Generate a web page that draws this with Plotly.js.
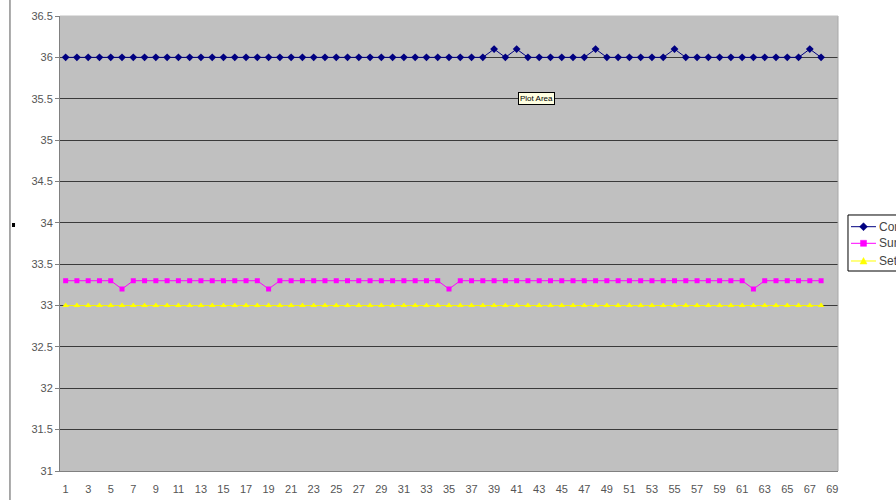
<!DOCTYPE html>
<html>
<head>
<meta charset="utf-8">
<script src="https://cdn.plot.ly/plotly-3.0.1.min.js"></script>
<style>html,body{margin:0;padding:0;background:#fff;}#chart{width:896px;height:500px;}</style>
</head>
<body>
<div id="chart"></div>
<script>
var categories = [1,2,3,4,5,6,7,8,9,10,11,12,13,14,15,16,17,18,19,20,21,22,23,24,25,26,27,28,29,30,31,32,33,34,35,36,37,38,39,40,41,42,43,44,45,46,47,48,49,50,51,52,53,54,55,56,57,58,59,60,61,62,63,64,65,66,67,68];
var coreTemp = [36,36,36,36,36,36,36,36,36,36,36,36,36,36,36,36,36,36,36,36,36,36,36,36,36,36,36,36,36,36,36,36,36,36,36,36,36,36,36.1,36,36.1,36,36,36,36,36,36,36.1,36,36,36,36,36,36,36.1,36,36,36,36,36,36,36,36,36,36,36,36.1,36];
var surfaceTemp = [33.3,33.3,33.3,33.3,33.3,33.2,33.3,33.3,33.3,33.3,33.3,33.3,33.3,33.3,33.3,33.3,33.3,33.3,33.2,33.3,33.3,33.3,33.3,33.3,33.3,33.3,33.3,33.3,33.3,33.3,33.3,33.3,33.3,33.3,33.2,33.3,33.3,33.3,33.3,33.3,33.3,33.3,33.3,33.3,33.3,33.3,33.3,33.3,33.3,33.3,33.3,33.3,33.3,33.3,33.3,33.3,33.3,33.3,33.3,33.3,33.3,33.2,33.3,33.3,33.3,33.3,33.3,33.3];
var setPoint = [33,33,33,33,33,33,33,33,33,33,33,33,33,33,33,33,33,33,33,33,33,33,33,33,33,33,33,33,33,33,33,33,33,33,33,33,33,33,33,33,33,33,33,33,33,33,33,33,33,33,33,33,33,33,33,33,33,33,33,33,33,33,33,33,33,33,33,33];
var xTickLabels = [1,3,5,7,9,11,13,15,17,19,21,23,25,27,29,31,33,35,37,39,41,43,45,47,49,51,53,55,57,59,61,63,65,67,69];
var yTickValues = [31,31.5,32,32.5,33,33.5,34,34.5,35,35.5,36,36.5];
var seriesNames = ['Core Temp','Surface Temp','Set Point'];
var seriesColors = ['#000080','#FF00FF','#FFFF00'];

// category boundaries for the small tick marks (69 categories on the axis)
var boundaries = categories.map(function (c) { return c - 0.5; }).concat([68.5, 69.5]);

var traces = [
  {x: categories, y: coreTemp, name: seriesNames[0], type: 'scatter', mode: 'lines+markers',
   line: {color: seriesColors[0], width: 1}, marker: {symbol: 'diamond', size: 6, color: seriesColors[0]}},
  {x: categories, y: surfaceTemp, name: seriesNames[1], type: 'scatter', mode: 'lines+markers',
   line: {color: seriesColors[1], width: 1}, marker: {symbol: 'square', size: 5, color: seriesColors[1]}},
  {x: categories, y: setPoint, name: seriesNames[2], type: 'scatter', mode: 'lines+markers',
   line: {color: seriesColors[2], width: 1}, marker: {symbol: 'triangle-up', size: 6, color: seriesColors[2]}}
];

// Excel-style legend box (partly cut off by the right page edge, as in the reference)
var legX0 = 1.01285, legX1 = 1.0797, legY0 = 0.43956, legY1 = 0.56264;
var lineX0 = 1.01671, lineX1 = 1.04884, markX = 1.03278, textX = 1.0501;
var itemY = [0.53692, 0.50044, 0.46154];
var markerPaths = ['M0,4 L4,0 L0,-4 L-4,0 Z', 'M-3,-3 L3,-3 L3,3 L-3,3 Z', 'M-3.5,-3 L3.5,-3 L0,3.5 Z'];

var shapes = [
  {type: 'line', xref: 'paper', yref: 'paper', x0: -0.0643, x1: -0.0643, y0: -0.07, y1: 1.04,
   line: {color: '#555555', width: 1}},
  {type: 'line', xref: 'paper', yref: 'paper', x0: 1, x1: 1, y0: 0, y1: 1,
   line: {color: '#a8a8a8', width: 1}},
  {type: 'line', xref: 'paper', yref: 'paper', x0: 0, x1: 1, y0: 1, y1: 1,
   line: {color: '#c0c0c0', width: 1}},
  {type: 'rect', xref: 'paper', yref: 'paper', x0: -0.0617, x1: -0.0578, y0: 0.5363, y1: 0.5451,
   fillcolor: '#000000', line: {width: 0}},
  {type: 'rect', xref: 'paper', yref: 'paper', x0: legX0, x1: legX1, y0: legY0, y1: legY1,
   fillcolor: '#ffffff', line: {color: '#000000', width: 1}}
];
var annotations = [
  {text: 'Plot Area', xref: 'paper', yref: 'paper', x: 0.612, y: 0.833, showarrow: false,
   bgcolor: '#ffffe1', bordercolor: '#000000', borderwidth: 1, borderpad: 1,
   font: {size: 8, color: '#000000'}}
];
for (var i = 0; i < seriesNames.length; i++) {
  shapes.push({type: 'line', xref: 'paper', yref: 'paper', x0: lineX0, x1: lineX1, y0: itemY[i], y1: itemY[i],
               line: {color: seriesColors[i], width: 1}});
  shapes.push({type: 'path', xref: 'paper', yref: 'paper', xsizemode: 'pixel', ysizemode: 'pixel',
               xanchor: markX, yanchor: itemY[i], path: markerPaths[i],
               fillcolor: seriesColors[i], line: {color: seriesColors[i], width: 0.5}});
  annotations.push({text: seriesNames[i], xref: 'paper', yref: 'paper', x: textX, y: itemY[i],
                    xanchor: 'left', yanchor: 'middle', showarrow: false,
                    font: {size: 12, color: '#444444'}});
}

var layout = {
  width: 896, height: 500,
  margin: {l: 60, r: 58, t: 16, b: 29, autoexpand: false},
  paper_bgcolor: '#ffffff',
  plot_bgcolor: '#c0c0c0',
  font: {family: 'Liberation Sans, Arial, sans-serif', size: 11, color: '#555555'},
  showlegend: false,
  xaxis: {
    range: [0.5, 69.5], tickmode: 'array', tickvals: xTickLabels, ticktext: xTickLabels.map(String),
    ticks: '', showgrid: false, zeroline: false, showline: true, linecolor: '#808080', linewidth: 1,
    mirror: false, ticklabelstandoff: 8
  },
  xaxis2: {
    overlaying: 'x', anchor: 'y', side: 'bottom', range: [0.5, 69.5],
    tickmode: 'array', tickvals: boundaries, ticks: 'outside', ticklen: 4, tickcolor: '#808080',
    showticklabels: false, showgrid: false, zeroline: false, showline: false
  },
  yaxis: {
    range: [31, 36.5], tickmode: 'array', tickvals: yTickValues, ticktext: yTickValues.map(String),
    ticks: 'outside', ticklen: 4, tickcolor: '#808080', showgrid: true, gridcolor: '#3a3a3a', gridwidth: 1,
    zeroline: false, showline: true, linecolor: '#808080', linewidth: 1
  },
  shapes: shapes,
  annotations: annotations
};

Plotly.newPlot('chart', traces, layout, {staticPlot: true, displayModeBar: false});
</script>
</body>
</html>
